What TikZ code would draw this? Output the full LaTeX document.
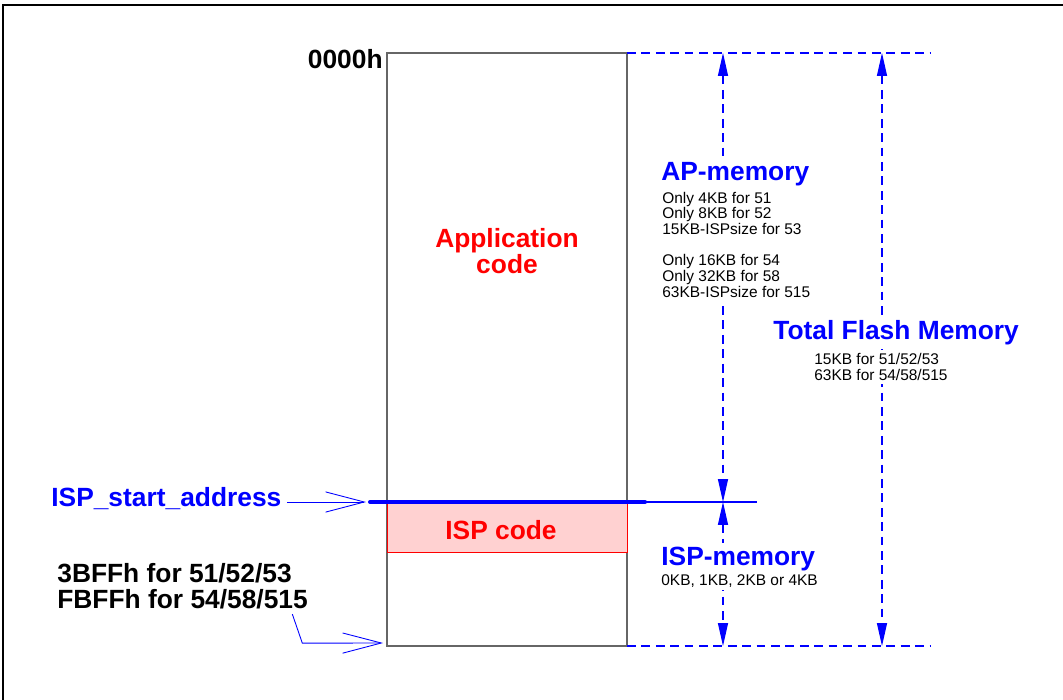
\documentclass[tikz,border=0pt]{standalone}
\usepackage{fontspec}
\setmainfont{Liberation Sans}
\usetikzlibrary{arrows.meta}
\tikzset{>=latex}
\colorlet{mapblue}{blue}
\colorlet{mapred}{red}
\colorlet{ispfill}{red!18}
\colorlet{boxcol}{black!60}

\tikzset{
    bigtxt/.style={font=\fontsize{15}{14.8}\selectfont\bfseries, inner sep=0pt},
    smalltxt/.style={font=\fontsize{8.8}{8.9}\selectfont, inner sep=0pt, align=left},
    onwhite/.style={fill=white, inner ysep=2pt},
    dimline/.style={mapblue, line width=0.6pt, dash pattern=on 5pt off 3.2pt},
    dimarrow/.style={dimline, {Triangle[length=13pt,width=5.7pt]}-{Triangle[length=13pt,width=5.7pt]}},
    pointer/.style={mapblue, line width=0.5pt, -{Straight Barb[length=22pt,width=11.5pt]}},
}

\begin{document}
\begin{tikzpicture}[x=0.02cm, y=-0.02cm]
    \useasboundingbox (0, 0) rectangle (1063, 700);

    % page frame
    \draw[line width=1.4pt] (3, 720) |- (1080, 5);

    % memory block with the ISP area at the bottom
    \draw[boxcol, line width=0.8pt] (387, 53) rectangle (627, 646);
    \draw[mapred, fill=ispfill, line width=0.5pt] (387, 502) rectangle (627, 552);
    \draw[mapblue, line width=2.3pt, line cap=round] (370, 502) -- (645, 502);
    \draw[mapblue, line width=0.6pt] (645, 502) -- (757, 502);

    \coordinate (memtop) at (627, 53);
    \coordinate (membot) at (627, 646);
    \coordinate (isptip) at (366, 502);
    \coordinate (endtip) at (383, 643);
    \coordinate (aptop) at (723, 53);
    \coordinate (apbot) at (723, 502);
    \coordinate (ispbot) at (723, 646);
    \coordinate (tottop) at (882, 53);
    \coordinate (totbot) at (882, 646);

    % size markers
    \draw[dimline] (memtop) -- (930, 53);
    \draw[dimline] (membot) -- (930, 646);
    \draw[dimarrow] (aptop) -- (apbot);
    \draw[dimarrow] (apbot) -- (ispbot);
    \draw[dimarrow] (tottop) -- (totbot);

    % labels (multi-line ones sit on their last baseline)
    \node[bigtxt, anchor=base east] (starthex) at (383, 68) {0000h};
    \node[bigtxt, text=mapred, align=center] (appcode) at (507, 251) {Application\\code};
    \node[bigtxt, text=mapred, anchor=base] (ispcode) at (501, 539) {ISP code};

    \node[bigtxt, onwhite, text=mapblue, anchor=base west] (apmem) at (661, 180) {AP-memory};
    \node[smalltxt, onwhite, anchor=base west] (apsize) at (662, 297)
        {Only 4KB for 51\\Only 8KB for 52\\15KB-ISPsize for 53\\[8.9pt]Only 16KB for 54\\Only 32KB for 58\\63KB-ISPsize for 515};

    \node[bigtxt, onwhite, text=mapblue, anchor=base west] (totmem) at (773, 339) {Total Flash Memory};
    \node[smalltxt, onwhite, anchor=base west] (totsize) at (814, 380) {15KB for 51/52/53\\63KB for 54/58/515};

    \node[bigtxt, onwhite, text=mapblue, anchor=base west] (ispmem) at (661, 565) {ISP-memory};
    \node[smalltxt, onwhite, anchor=base west] (ispsize) at (661, 585) {0KB, 1KB, 2KB or 4KB};

    \node[bigtxt, text=mapblue, anchor=base west] (startlbl) at (51, 506) {ISP\_start\_address};
    \node[bigtxt, align=left, anchor=base west] (endlbl) at (57, 608) {3BFFh for 51/52/53\\FBFFh for 54/58/515};

    % pointers into the block
    \draw[pointer] ([xshift=3pt]startlbl.east |- isptip) -- (isptip);
    \draw[pointer] ([xshift=-9pt, yshift=-3pt]endlbl.south east) -- ++(10, 29) -- (endtip);
\end{tikzpicture}
\end{document}
